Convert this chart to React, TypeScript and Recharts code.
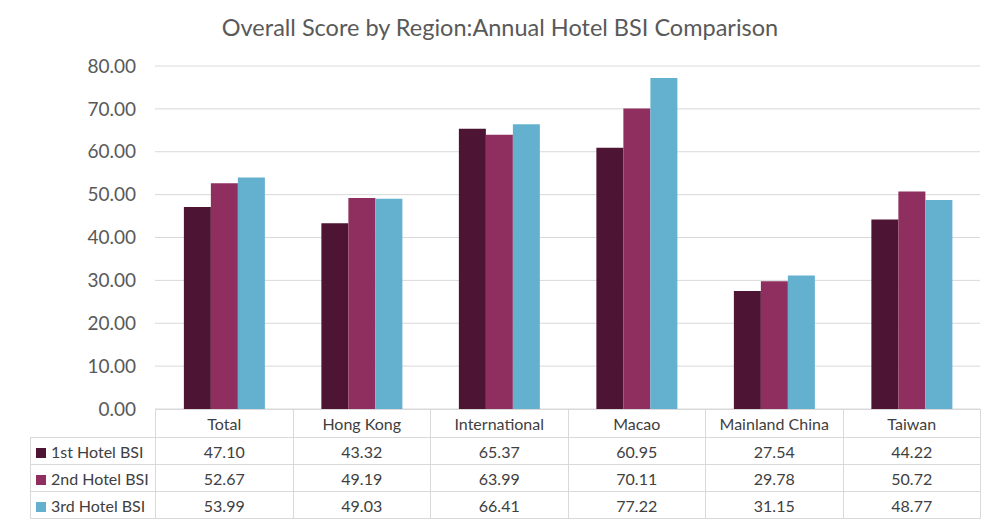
import { Bar, BarChart, CartesianGrid, XAxis, YAxis } from 'recharts';

const REGIONS = ['Total', 'Hong Kong', 'International', 'Macao', 'Mainland China', 'Taiwan'];
const FIRST = [47.1, 43.32, 65.37, 60.95, 27.54, 44.22];
const SECOND = [52.67, 49.19, 63.99, 70.11, 29.78, 50.72];
const THIRD = [53.99, 49.03, 66.41, 77.22, 31.15, 48.77];
const Y_TICKS = [0, 10, 20, 30, 40, 50, 60, 70, 80];

const SERIES = [
  { key: 'first', name: '1st Hotel BSI', color: '#4e1433', values: FIRST },
  { key: 'second', name: '2nd Hotel BSI', color: '#8e2f5f', values: SECOND },
  { key: 'third', name: '3rd Hotel BSI', color: '#64b0cf', values: THIRD },
];

const FONT = 'Lato, "Open Sans", sans-serif';
const BORDER = '1px solid #d9d9d9';

const data = REGIONS.map((region, i) => ({
  region,
  first: FIRST[i],
  second: SECOND[i],
  third: THIRD[i],
}));

export default function App() {
  return (
    <div
      style={{
        position: 'absolute',
        left: 0,
        top: 0,
        width: 1000,
        height: 527,
        background: '#fff',
        fontFamily: FONT,
      }}
    >
      <div
        style={{
          position: 'absolute',
          top: 13,
          width: 1000,
          textAlign: 'center',
          fontSize: 23.5,
          color: '#595959',
        }}
      >
        Overall Score by Region:Annual Hotel BSI Comparison
      </div>
      <BarChart
        width={1000}
        height={430}
        data={data}
        margin={{ top: 66, right: 20, bottom: 21, left: 0 }}
        barCategoryGap="21%"
        barGap={0}
      >
        <CartesianGrid vertical={false} stroke="#d9d9d9" />
        <XAxis dataKey="region" hide />
        <YAxis
          width={155}
          domain={[0, 80]}
          ticks={Y_TICKS}
          axisLine={false}
          tickLine={false}
          tickMargin={13}
          tickFormatter={(v: number) => v.toFixed(2)}
          tick={{ fontSize: 19, fill: '#595959', fontFamily: FONT }}
        />
        {SERIES.map((s) => (
          <Bar key={s.key} dataKey={s.key} name={s.name} fill={s.color} isAnimationActive={false} />
        ))}
      </BarChart>
      <table
        style={{
          position: 'absolute',
          left: 30,
          top: 409,
          width: 951,
          borderCollapse: 'collapse',
          tableLayout: 'fixed',
          fontSize: 16,
          color: '#404040',
        }}
      >
        <colgroup>
          <col style={{ width: 125 }} />
          {REGIONS.map((r) => (
            <col key={r} />
          ))}
        </colgroup>
        <tbody>
          <tr style={{ height: 28 }}>
            <td style={{ padding: 0 }} />
            {REGIONS.map((r) => (
              <td key={r} style={{ border: BORDER, textAlign: 'center', padding: 0, background: '#fff' }}>
                {r}
              </td>
            ))}
          </tr>
          {SERIES.map((s) => (
            <tr key={s.key} style={{ height: 27 }}>
              <td style={{ border: BORDER, padding: '0 0 0 5px', whiteSpace: 'nowrap' }}>
                <span
                  style={{
                    display: 'inline-block',
                    width: 10,
                    height: 10,
                    background: s.color,
                    marginRight: 5,
                  }}
                />
                {s.name}
              </td>
              {s.values.map((v, i) => (
                <td key={REGIONS[i]} style={{ border: BORDER, textAlign: 'center', padding: 0 }}>
                  {v.toFixed(2)}
                </td>
              ))}
            </tr>
          ))}
        </tbody>
      </table>
    </div>
  );
}
